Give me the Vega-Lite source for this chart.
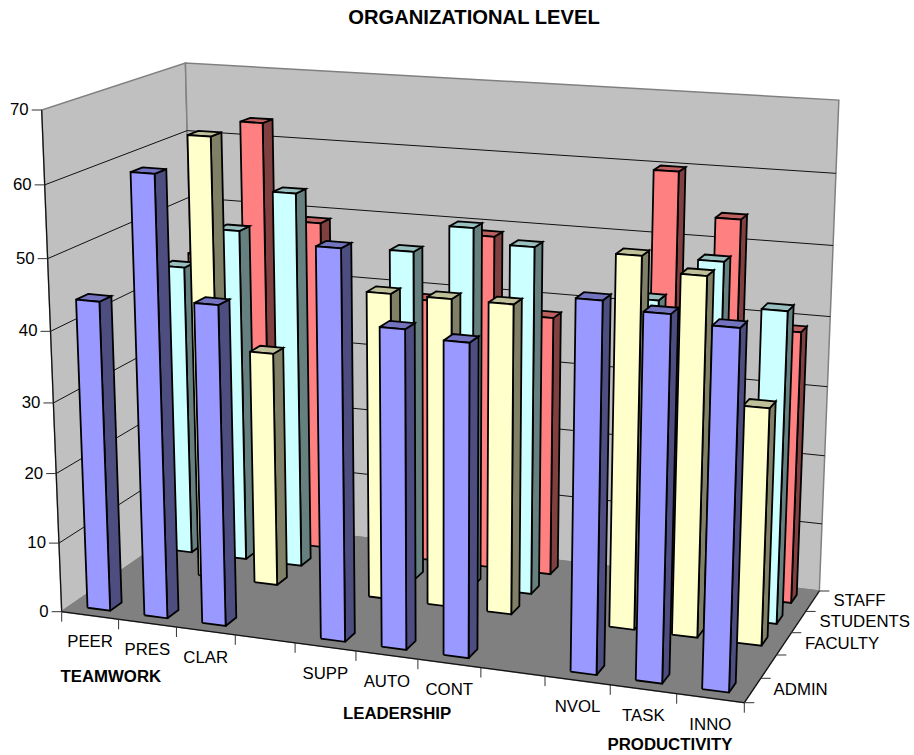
{
  "$schema": "https://vega.github.io/schema/vega-lite/v6.json",
  "width": 914,
  "height": 755,
  "padding": 0,
  "autosize": "none",
  "background": "white",
  "config": {"view": {"stroke": null}, "font": "Liberation Sans"},
  "title": {"text": "ORGANIZATIONAL LEVEL", "font": "Liberation Sans", "fontSize": 20.2, "fontWeight": "bold", "color": "black", "anchor": "middle", "dx": 17, "offset": -28},
  "resolve": {"scale": {"fill": "independent"}},
  "datasets": {
    "scores": [
      {"topic": "PEER", "level": "STAFF", "value": 43},
      {"topic": "PRES", "level": "STAFF", "value": 63},
      {"topic": "CLAR", "level": "STAFF", "value": 49},
      {"topic": "SUPP", "level": "STAFF", "value": 39},
      {"topic": "AUTO", "level": "STAFF", "value": 49},
      {"topic": "CONT", "level": "STAFF", "value": 38},
      {"topic": "NVOL", "level": "STAFF", "value": 60},
      {"topic": "TASK", "level": "STAFF", "value": 54},
      {"topic": "INNO", "level": "STAFF", "value": 39},
      {"topic": "PEER", "level": "STUDENTS", "value": 43},
      {"topic": "PRES", "level": "STUDENTS", "value": 49},
      {"topic": "CLAR", "level": "STUDENTS", "value": 55},
      {"topic": "SUPP", "level": "STUDENTS", "value": 48},
      {"topic": "AUTO", "level": "STUDENTS", "value": 52},
      {"topic": "CONT", "level": "STUDENTS", "value": 50},
      {"topic": "NVOL", "level": "STUDENTS", "value": 44},
      {"topic": "TASK", "level": "STUDENTS", "value": 50},
      {"topic": "INNO", "level": "STUDENTS", "value": 44},
      {"topic": "PRES", "level": "FACULTY", "value": 64},
      {"topic": "CLAR", "level": "FACULTY", "value": 34},
      {"topic": "SUPP", "level": "FACULTY", "value": 44},
      {"topic": "AUTO", "level": "FACULTY", "value": 44},
      {"topic": "CONT", "level": "FACULTY", "value": 44},
      {"topic": "NVOL", "level": "FACULTY", "value": 52},
      {"topic": "TASK", "level": "FACULTY", "value": 50},
      {"topic": "INNO", "level": "FACULTY", "value": 33},
      {"topic": "PEER", "level": "ADMIN", "value": 44},
      {"topic": "PRES", "level": "ADMIN", "value": 62},
      {"topic": "CLAR", "level": "ADMIN", "value": 45},
      {"topic": "SUPP", "level": "ADMIN", "value": 54},
      {"topic": "AUTO", "level": "ADMIN", "value": 44},
      {"topic": "CONT", "level": "ADMIN", "value": 43},
      {"topic": "NVOL", "level": "ADMIN", "value": 50},
      {"topic": "TASK", "level": "ADMIN", "value": 49},
      {"topic": "INNO", "level": "ADMIN", "value": 48}
    ],
    "panels": [{"panel": "left"}, {"panel": "back"}, {"panel": "floor"}],
    "edges": [{"edge": "scores"}, {"edge": "topics"}, {"edge": "levels"}],
    "gridScores": [{"score": 0}, {"score": 10}, {"score": 20}, {"score": 30}, {"score": 40}, {"score": 50}, {"score": 60}, {"score": 70}],
    "topics": [{"topic": "PEER"}, {"topic": "PRES"}, {"topic": "CLAR"}, {"topic": "SUPP"}, {"topic": "AUTO"}, {"topic": "CONT"}, {"topic": "NVOL"}, {"topic": "TASK"}, {"topic": "INNO"}],
    "levels": [{"level": "ADMIN"}, {"level": "FACULTY"}, {"level": "STUDENTS"}, {"level": "STAFF"}],
    "groups": [{"group": "TEAMWORK"}, {"group": "LEADERSHIP"}, {"group": "PRODUCTIVITY"}],
    "axisSteps": [{"step": 0}, {"step": 1}, {"step": 2}, {"step": 3}, {"step": 4}, {"step": 5}, {"step": 6}, {"step": 7}, {"step": 8}, {"step": 9}, {"step": 10}, {"step": 11}]
  },
  "encoding": {
    "x": {"field": "px", "type": "quantitative", "axis": null, "scale": {"domain": [0, 914], "nice": false, "zero": false}},
    "y": {"field": "py", "type": "quantitative", "axis": null, "scale": {"domain": [755, 0], "nice": false, "zero": false}}
  },
  "layer": [
    {
      "data": {"name": "panels"},
      "transform": [
        {"calculate": "[0,1,2,3,4]", "as": "vertex"},
        {"flatten": ["vertex"]},
        {"calculate": "datum.panel==='left'?0:[0,1,1,0,0][datum.vertex]", "as": "pu"},
        {"calculate": "datum.panel==='back'?1:datum.panel==='left'?[0,1,1,0,0][datum.vertex]:[0,0,1,1,0][datum.vertex]", "as": "pv"},
        {"calculate": "datum.panel==='floor'?0:[0,0,1,1,0][datum.vertex]", "as": "pw"},
        {"calculate": "1-0.0907*datum.pu+0.1078*datum.pv-0.05*datum.pw", "as": "d"},
        {"calculate": "(615.1*datum.pu+156.54*datum.pv+61.7-22.085*datum.pw)/datum.d", "as": "px"},
        {"calculate": "(27.27*datum.pu-37.86*datum.pv+611.7-507.2*datum.pw)/datum.d+3*datum.pu*datum.pw", "as": "py"}
      ],
      "mark": {"type": "line", "stroke": "#808080", "strokeWidth": 1.5, "strokeJoin": "miter"},
      "encoding": {
        "order": {"field": "vertex", "type": "quantitative"},
        "fill": {"field": "panel", "type": "nominal", "legend": null, "scale": {"domain": ["left", "back", "floor"], "range": ["#C0C0C0", "#C0C0C0", "#808080"]}}
      }
    },
    {
      "data": {"name": "gridScores"},
      "transform": [
        {"filter": "datum.score>0 && datum.score<70"},
        {"calculate": "[0,1,2]", "as": "vertex"},
        {"flatten": ["vertex"]},
        {"calculate": "datum.vertex===2?1:0", "as": "pu"},
        {"calculate": "datum.vertex===0?0:1", "as": "pv"},
        {"calculate": "datum.score/70", "as": "pw"},
        {"calculate": "1-0.0907*datum.pu+0.1078*datum.pv-0.05*datum.pw", "as": "d"},
        {"calculate": "(615.1*datum.pu+156.54*datum.pv+61.7-22.085*datum.pw)/datum.d", "as": "px"},
        {"calculate": "(27.27*datum.pu-37.86*datum.pv+611.7-507.2*datum.pw)/datum.d+3*datum.pu*datum.pw", "as": "py"}
      ],
      "mark": {"type": "line", "stroke": "#111111", "strokeWidth": 1},
      "encoding": {
        "order": {"field": "vertex", "type": "quantitative"},
        "detail": {"field": "score", "type": "quantitative"}
      }
    },
    {
      "data": {"name": "edges"},
      "transform": [
        {"calculate": "[0,1]", "as": "vertex"},
        {"flatten": ["vertex"]},
        {"calculate": "datum.edge==='scores'?0:datum.edge==='levels'?1:datum.vertex", "as": "pu"},
        {"calculate": "datum.edge==='levels'?datum.vertex:0", "as": "pv"},
        {"calculate": "datum.edge==='scores'?datum.vertex:0", "as": "pw"},
        {"calculate": "1-0.0907*datum.pu+0.1078*datum.pv-0.05*datum.pw", "as": "d"},
        {"calculate": "(615.1*datum.pu+156.54*datum.pv+61.7-22.085*datum.pw)/datum.d", "as": "px"},
        {"calculate": "(27.27*datum.pu-37.86*datum.pv+611.7-507.2*datum.pw)/datum.d", "as": "py"}
      ],
      "mark": {"type": "line", "stroke": "#111111", "strokeWidth": 1.2},
      "encoding": {
        "order": {"field": "vertex", "type": "quantitative"},
        "detail": {"field": "edge", "type": "nominal"}
      }
    },
    {
      "data": {"name": "scores"},
      "transform": [
        {"calculate": "indexof(['PEER','PRES','CLAR','','SUPP','AUTO','CONT','','NVOL','TASK','INNO'],datum.topic)", "as": "slot"},
        {"calculate": "indexof(['ADMIN','','FACULTY','STUDENTS','STAFF'],datum.level)", "as": "row"},
        {"calculate": "['side','top','front']", "as": "face"},
        {"flatten": ["face"]},
        {"calculate": "[0,1,2,3,4]", "as": "vertex"},
        {"flatten": ["vertex"]},
        {"calculate": "datum.vertex%4", "as": "corner"},
        {"calculate": "(datum.slot+0.3+0.4*(datum.face==='side'?1:[0,1,1,0][datum.corner]))/11", "as": "pu"},
        {"calculate": "(datum.row+0.3+0.4*(datum.face==='front'?0:datum.face==='side'?[0,1,1,0][datum.corner]:[0,0,1,1][datum.corner]))/5", "as": "pv"},
        {"calculate": "datum.value/70*(datum.face==='top'?1:[0,0,1,1][datum.corner])", "as": "pw"},
        {"calculate": "1-0.0907*datum.pu+0.1078*datum.pv-0.05*datum.pw", "as": "d"},
        {"calculate": "(615.1*datum.pu+156.54*datum.pv+61.7-22.085*datum.pw)/datum.d", "as": "px"},
        {"calculate": "(27.27*datum.pu-37.86*datum.pv+611.7-507.2*datum.pw)/datum.d+3*datum.pu*datum.pw", "as": "py"},
        {"calculate": "datum.level+' '+datum.face", "as": "paint"},
        {"calculate": "datum.level+' '+datum.topic+' '+datum.face", "as": "facet"}
      ],
      "mark": {"type": "line", "stroke": "black", "strokeWidth": 1.8, "strokeJoin": "miter"},
      "encoding": {
        "order": {"field": "vertex", "type": "quantitative"},
        "detail": {"field": "facet", "type": "nominal"},
        "fill": {
          "field": "paint",
          "type": "nominal",
          "legend": null,
          "scale": {
            "domain": ["ADMIN front", "ADMIN top", "ADMIN side", "FACULTY front", "FACULTY top", "FACULTY side", "STUDENTS front", "STUDENTS top", "STUDENTS side", "STAFF front", "STAFF top", "STAFF side"],
            "range": ["#9999FF", "#7373BF", "#4D4D80", "#FFFFCC", "#BFBF99", "#808066", "#CCFFFF", "#99BFBF", "#668080", "#FF8080", "#BF6060", "#804040"]
          }
        }
      }
    },
    {
      "data": {"name": "gridScores"},
      "transform": [
        {"calculate": "datum.score/70", "as": "pw"},
        {"calculate": "1-0.05*datum.pw", "as": "d"},
        {"calculate": "(61.7-22.085*datum.pw)/datum.d", "as": "px"},
        {"calculate": "(611.7-507.2*datum.pw)/datum.d", "as": "py"},
        {"calculate": "datum.px-10", "as": "tickEnd"}
      ],
      "mark": {"type": "rule", "stroke": "#333333", "strokeWidth": 1},
      "encoding": {"x2": {"field": "tickEnd"}}
    },
    {
      "data": {"name": "gridScores"},
      "transform": [
        {"calculate": "datum.score/70", "as": "pw"},
        {"calculate": "1-0.05*datum.pw", "as": "d"},
        {"calculate": "(61.7-22.085*datum.pw)/datum.d", "as": "px"},
        {"calculate": "(611.7-507.2*datum.pw)/datum.d", "as": "py"}
      ],
      "mark": {"type": "text", "align": "right", "baseline": "middle", "dx": -13, "fontSize": 16.8, "font": "Liberation Sans", "color": "black"},
      "encoding": {"text": {"field": "score", "type": "quantitative"}}
    },
    {
      "data": {"name": "axisSteps"},
      "transform": [
        {"calculate": "datum.step/11", "as": "pu"},
        {"calculate": "1-0.0907*datum.pu", "as": "d"},
        {"calculate": "(615.1*datum.pu+61.7)/datum.d", "as": "px"},
        {"calculate": "(27.27*datum.pu+611.7)/datum.d", "as": "py"},
        {"calculate": "datum.py+10", "as": "tickEnd"}
      ],
      "mark": {"type": "rule", "stroke": "#333333", "strokeWidth": 1},
      "encoding": {"y2": {"field": "tickEnd"}}
    },
    {
      "data": {"name": "axisSteps"},
      "transform": [
        {"filter": "datum.step<=5"},
        {"calculate": "datum.step/5", "as": "pv"},
        {"calculate": "1-0.0907+0.1078*datum.pv", "as": "d"},
        {"calculate": "(615.1+156.54*datum.pv+61.7)/datum.d", "as": "px"},
        {"calculate": "(27.27-37.86*datum.pv+611.7)/datum.d", "as": "py"},
        {"calculate": "datum.px+10", "as": "tickEnd"}
      ],
      "mark": {"type": "rule", "stroke": "#333333", "strokeWidth": 1},
      "encoding": {"x2": {"field": "tickEnd"}}
    },
    {
      "data": {"name": "topics"},
      "transform": [
        {"calculate": "(indexof(['PEER','PRES','CLAR','','SUPP','AUTO','CONT','','NVOL','TASK','INNO'],datum.topic)+0.5)/11", "as": "pu"},
        {"calculate": "1-0.0907*datum.pu", "as": "d"},
        {"calculate": "(615.1*datum.pu+61.7)/datum.d", "as": "px"},
        {"calculate": "(27.27*datum.pu+611.7)/datum.d+27", "as": "py"}
      ],
      "mark": {"type": "text", "align": "center", "baseline": "middle", "fontSize": 16.8, "font": "Liberation Sans", "color": "black"},
      "encoding": {"text": {"field": "topic", "type": "nominal"}}
    },
    {
      "data": {"name": "levels"},
      "transform": [
        {"calculate": "(indexof(['ADMIN','','FACULTY','STUDENTS','STAFF'],datum.level)+0.5)/5", "as": "pv"},
        {"calculate": "1-0.0907+0.1078*datum.pv", "as": "d"},
        {"calculate": "(615.1+156.54*datum.pv+61.7)/datum.d", "as": "px"},
        {"calculate": "(27.27-37.86*datum.pv+611.7)/datum.d", "as": "py"}
      ],
      "mark": {"type": "text", "align": "left", "baseline": "middle", "dx": 21, "fontSize": 16.8, "font": "Liberation Sans", "color": "black"},
      "encoding": {"text": {"field": "level", "type": "nominal"}}
    },
    {
      "data": {"name": "groups"},
      "transform": [
        {"calculate": "{TEAMWORK:0.0785,LEADERSHIP:0.515,PRODUCTIVITY:0.9}[datum.group]", "as": "pu"},
        {"calculate": "{TEAMWORK:59,LEADERSHIP:57.6,PRODUCTIVITY:52}[datum.group]", "as": "drop"},
        {"calculate": "1-0.0907*datum.pu", "as": "d"},
        {"calculate": "(615.1*datum.pu+61.7)/datum.d", "as": "px"},
        {"calculate": "(27.27*datum.pu+611.7)/datum.d+datum.drop", "as": "py"}
      ],
      "mark": {"type": "text", "align": "center", "baseline": "middle", "fontSize": 16.8, "fontWeight": "bold", "font": "Liberation Sans", "color": "black"},
      "encoding": {"text": {"field": "group", "type": "nominal"}}
    }
  ]
}
